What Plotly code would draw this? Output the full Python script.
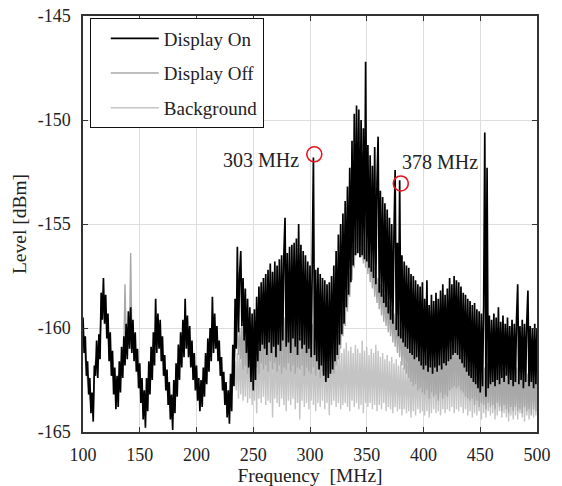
import plotly.graph_objects as go

FREQ_START = 100
FREQ_STOP = 500
freq_mhz = list(range(FREQ_START, FREQ_STOP + 1))  # 1 MHz bins

display_on = [
    -159.5,-161.2,-160.4,-162.3,-161.6,-163.2,-162.4,-164.1,-163.1,-164.5,
    -161.8,-162.3,-160.6,-162.4,-160.3,-161.5,-158.3,-159.6,-157.6,-159.8,
    -158.4,-160.5,-159.3,-161.6,-160.2,-162.3,-161.1,-163.2,-161.9,-163.9,
    -162.3,-163.8,-161.6,-163.1,-160.9,-162.4,-160.4,-161.8,-159.8,-161.5,
    -159.2,-161.0,-159.0,-161.2,-159.6,-161.6,-160.2,-162.1,-161.0,-162.9,
    -161.7,-163.6,-162.4,-164.4,-163.0,-164.8,-162.4,-164.0,-161.6,-163.2,
    -160.9,-162.5,-160.2,-161.8,-158.6,-161.2,-159.3,-161.0,-159.6,-161.6,
    -160.4,-162.3,-161.3,-163.0,-162.0,-163.7,-162.6,-164.4,-163.2,-164.9,
    -162.5,-164.1,-161.7,-163.3,-160.8,-162.5,-160.2,-161.9,-159.6,-161.4,
    -158.6,-161.0,-159.4,-161.4,-159.9,-161.9,-160.6,-162.5,-161.2,-163.0,
    -161.8,-163.5,-162.4,-164.0,-162.5,-163.8,-161.9,-163.3,-161.2,-162.7,
    -160.5,-162.1,-160.0,-161.6,-158.5,-161.2,-159.3,-161.0,-159.9,-161.6,
    -160.6,-162.3,-161.4,-163.0,-162.1,-163.7,-162.6,-164.3,-163.0,-164.6,
    -162.2,-164.0,-160.8,-162.8,-158.6,-161.0,-156.1,-160.2,-157.4,-156.3,
    -159.9,-157.6,-160.6,-158.1,-161.2,-158.6,-161.9,-159.0,-162.6,-159.3,
    -163.0,-159.1,-162.5,-158.5,-161.6,-158.0,-161.1,-157.8,-160.8,-157.6,
    -161.0,-157.4,-161.3,-157.2,-160.7,-156.9,-161.2,-157.3,-160.9,-156.8,
    -161.4,-157.0,-160.8,-156.7,-161.1,-156.5,-160.6,-156.4,-154.7,-160.9,
    -156.4,-160.7,-156.1,-161.2,-156.0,-160.5,-155.9,-160.9,-155.7,-161.3,
    -155.0,-160.6,-156.0,-161.0,-156.3,-160.8,-156.5,-161.2,-156.8,-161.0,
    -157.0,-161.4,-156.9,-151.8,-161.3,-157.2,-161.6,-157.1,-162.0,-157.4,
    -161.8,-157.6,-162.3,-157.7,-162.6,-157.9,-162.4,-157.8,-162.2,-157.5,
    -162.0,-157.0,-161.6,-156.3,-161.3,-155.5,-160.8,-155.0,-160.3,-154.5,
    -159.8,-153.9,-159.0,-153.2,-158.4,-152.3,-157.8,-151.0,-157.0,-149.7,
    -156.5,-149.3,-156.4,-149.5,-156.6,-150.0,-156.5,-150.4,-156.7,-147.2,
    -156.8,-151.2,-157.1,-151.7,-157.3,-152.2,-157.6,-151.3,-157.9,-153.0,
    -150.8,-158.3,-153.4,-158.5,-153.7,-158.8,-154.0,-159.0,-154.3,-159.3,
    -154.7,-159.6,-155.0,-159.8,-155.4,-152.4,-160.1,-155.9,-160.4,-152.9,
    -160.5,-156.5,-160.7,-156.8,-160.9,-157.0,-161.0,-157.1,-161.2,-157.4,
    -161.3,-157.5,-161.5,-157.7,-161.4,-157.9,-161.6,-158.0,-161.8,-157.8,
    -162.0,-158.6,-161.8,-157.7,-162.1,-158.9,-161.9,-158.4,-162.2,-158.7,
    -161.9,-158.3,-162.1,-158.6,-161.8,-158.2,-162.0,-157.9,-161.7,-158.4,
    -161.8,-158.1,-161.6,-157.6,-161.5,-157.9,-161.3,-157.5,-161.2,-157.7,
    -161.3,-157.8,-161.5,-158.0,-161.7,-158.3,-161.9,-158.4,-162.1,-158.6,
    -162.3,-158.7,-162.4,-158.9,-162.6,-158.8,-162.7,-159.1,-162.9,-159.2,
    -163.1,-159.3,-162.8,-159.0,-150.6,-163.3,-152.3,-162.9,-159.4,-162.7,
    -159.6,-162.6,-159.3,-162.8,-159.5,-162.5,-159.0,-162.7,-159.7,-162.4,
    -159.4,-162.6,-159.8,-162.3,-159.5,-162.7,-159.9,-162.5,-159.6,-162.8,
    -159.8,-162.6,-159.5,-157.9,-162.7,-159.9,-162.5,-159.6,-162.9,-159.8,
    -162.6,-159.7,-158.2,-162.8,-159.9,-162.6,-160.0,-162.9,-159.8,-162.7,
    -160.0,
]

display_off = [
    -160.0,-160.9,-161.2,-161.9,-162.3,-162.8,-163.2,-163.6,-163.8,-164.0,
    -162.2,-161.6,-161.4,-161.8,-160.9,-160.6,-159.2,-158.9,-158.5,-159.0,
    -159.2,-159.8,-160.2,-160.8,-161.0,-161.6,-162.0,-162.4,-162.8,-163.3,
    -163.0,-162.6,-162.4,-161.9,-161.7,-161.2,-161.0,-157.9,-160.4,-160.6,
    -160.0,-160.3,-156.4,-160.2,-160.5,-160.7,-161.0,-161.4,-161.9,-162.2,
    -162.6,-163.0,-163.2,-163.6,-163.9,-164.0,-163.5,-163.2,-162.8,-162.5,
    -161.8,-161.5,-161.1,-160.8,-160.4,-160.3,-160.0,-160.1,-160.4,-160.7,
    -161.2,-161.7,-162.0,-162.4,-162.8,-163.0,-163.4,-163.7,-164.0,-164.2,
    -163.5,-163.0,-162.6,-162.3,-161.8,-161.5,-161.1,-160.8,-160.5,-160.3,
    -160.0,-160.2,-160.4,-160.6,-160.9,-161.1,-161.5,-161.8,-162.2,-162.4,
    -162.8,-163.0,-163.2,-163.4,-163.3,-163.0,-162.7,-162.4,-161.9,-161.6,
    -161.2,-161.0,-160.7,-160.5,-160.2,-160.3,-160.1,-160.4,-160.6,-160.9,
    -161.3,-161.7,-162.1,-162.4,-162.8,-163.1,-163.4,-163.6,-163.8,-164.0,
    -163.6,-163.0,-162.4,-161.8,-161.0,-160.6,-160.2,-161.3,-160.0,-161.5,
    -159.8,-162.0,-159.6,-161.8,-160.1,-162.2,-159.9,-162.4,-160.3,-162.1,
    -160.0,-162.5,-159.7,-161.9,-159.5,-162.2,-159.8,-161.7,-159.4,-162.0,
    -159.3,-161.8,-159.6,-162.1,-159.2,-161.6,-159.5,-162.0,-159.1,-161.7,
    -159.4,-162.1,-159.0,-161.8,-159.3,-162.2,-159.2,-161.9,-159.5,-162.0,
    -159.1,-161.7,-159.4,-162.1,-159.0,-161.8,-159.3,-162.2,-159.1,-161.9,
    -159.4,-162.0,-159.2,-161.8,-159.5,-162.3,-159.3,-161.9,-159.6,-162.1,
    -159.5,-162.2,-159.8,-161.9,-159.6,-162.3,-159.9,-162.0,-159.7,-162.4,
    -160.0,-162.1,-159.8,-162.5,-160.1,-162.2,-159.9,-162.4,-160.2,-162.0,
    -159.9,-162.2,-160.0,-161.8,-159.6,-161.5,-159.2,-161.0,-158.8,-160.4,
    -158.5,-159.9,-157.9,-159.2,-157.4,-158.5,-156.6,-157.7,-155.8,-157.1,
    -155.1,-156.5,-154.7,-156.4,-154.9,-156.6,-155.3,-156.9,-155.7,-157.1,
    -156.0,-157.4,-156.4,-157.8,-156.7,-158.1,-157.0,-158.5,-157.3,-158.8,
    -157.6,-159.1,-157.9,-159.4,-158.1,-159.7,-158.4,-159.9,-158.7,-160.2,
    -158.9,-160.4,-159.1,-160.7,-159.3,-160.9,-159.5,-161.2,-159.7,-161.4,
    -159.9,-161.8,-160.1,-162.0,-160.3,-162.2,-160.4,-162.4,-160.6,-162.6,
    -160.7,-162.8,-160.9,-162.7,-160.8,-163.0,-161.0,-162.9,-161.1,-163.1,
    -161.0,-163.2,-161.3,-163.0,-161.1,-163.4,-161.4,-163.1,-161.2,-163.3,
    -161.5,-163.2,-161.2,-163.5,-161.4,-163.1,-161.3,-163.4,-161.1,-163.2,
    -161.2,-163.3,-160.9,-163.0,-160.8,-162.9,-160.6,-162.8,-160.5,-162.9,
    -160.6,-162.8,-160.7,-163.0,-160.9,-163.1,-161.1,-163.3,-161.3,-163.4,
    -161.4,-163.5,-161.6,-163.4,-161.5,-163.7,-161.7,-163.5,-161.6,-163.8,
    -161.8,-163.6,-161.5,-163.7,-161.9,-163.9,-161.7,-163.6,-161.8,-163.8,
    -161.6,-163.7,-161.9,-163.9,-161.7,-163.6,-162.0,-163.8,-161.8,-164.0,
    -161.9,-163.7,-162.1,-163.9,-161.8,-164.1,-162.0,-163.8,-161.9,-164.0,
    -162.1,-163.8,-161.9,-164.0,-162.2,-163.9,-161.8,-164.1,-162.0,-163.8,
    -161.9,-164.0,-162.2,-163.9,-162.0,-164.2,-161.9,-163.9,-162.1,-164.0,
    -162.0,
]

background = [
    -160.4,-161.0,-161.6,-162.0,-162.6,-162.9,-163.4,-163.7,-164.0,-163.8,
    -162.4,-161.9,-161.7,-161.6,-161.2,-160.5,-159.6,-158.8,-158.9,-159.3,
    -159.6,-160.0,-160.5,-161.0,-161.3,-161.8,-162.2,-162.6,-163.0,-163.4,
    -162.9,-162.8,-162.2,-162.0,-161.5,-161.3,-160.8,-160.9,-160.6,-160.4,
    -160.2,-160.0,-160.1,-160.4,-160.6,-160.9,-161.2,-161.6,-162.0,-162.4,
    -162.8,-163.1,-163.4,-163.7,-164.1,-163.8,-163.6,-163.0,-162.9,-162.3,
    -162.0,-161.4,-161.2,-160.7,-160.6,-160.2,-160.2,-160.0,-160.5,-160.9,
    -161.4,-161.6,-162.2,-162.5,-162.9,-163.2,-163.5,-163.9,-164.1,-164.0,
    -163.3,-163.1,-162.4,-162.1,-161.9,-161.3,-161.2,-160.7,-160.6,-160.1,
    -160.2,-160.1,-160.6,-160.5,-161.0,-161.3,-161.6,-162.0,-162.3,-162.6,
    -162.9,-163.2,-163.3,-163.5,-163.1,-162.9,-162.5,-162.2,-161.8,-161.4,
    -161.3,-160.8,-160.8,-160.3,-160.4,-160.1,-160.3,-160.5,-160.8,-161.0,
    -161.5,-161.8,-162.3,-162.5,-163.0,-163.2,-163.5,-163.8,-163.9,-164.1,
    -163.4,-163.2,-162.6,-162.0,-161.6,-163.0,-161.2,-163.4,-161.0,-163.2,
    -160.9,-163.5,-161.1,-163.3,-160.7,-163.6,-161.0,-163.4,-160.8,-163.7,
    -161.2,-163.5,-160.9,-164.1,-161.1,-163.4,-160.6,-163.6,-161.0,-163.3,
    -160.8,-163.7,-161.2,-163.5,-160.1,-163.6,-160.9,-164.3,-161.1,-163.4,
    -160.7,-163.6,-161.0,-163.8,-160.9,-163.4,-161.3,-163.7,-160.6,-164.0,
    -161.0,-163.5,-160.8,-163.7,-161.2,-163.4,-160.5,-163.9,-161.1,-163.6,
    -160.9,-164.4,-161.2,-163.5,-160.8,-163.8,-161.0,-163.6,-160.7,-163.9,
    -161.1,-163.5,-160.9,-163.7,-161.3,-164.0,-160.8,-163.6,-161.2,-163.8,
    -161.0,-163.5,-160.6,-163.9,-161.1,-163.6,-160.9,-164.2,-161.2,-163.7,
    -160.9,-163.5,-161.3,-163.8,-161.0,-163.6,-160.8,-163.9,-161.2,-163.7,
    -161.0,-163.6,-160.7,-163.8,-161.1,-164.0,-160.9,-163.5,-161.2,-163.8,
    -160.8,-163.6,-161.0,-163.9,-161.2,-163.7,-160.6,-164.1,-161.1,-163.6,
    -160.9,-163.8,-161.3,-163.6,-161.0,-163.9,-161.2,-163.7,-160.8,-164.0,
    -161.1,-163.7,-161.4,-163.9,-161.2,-163.6,-161.5,-164.0,-161.3,-163.8,
    -161.6,-163.9,-161.4,-164.1,-161.7,-163.8,-161.5,-164.0,-161.8,-163.9,
    -161.6,-164.2,-161.9,-163.9,-161.7,-164.1,-161.8,-164.0,-161.6,-164.3,
    -161.9,-164.0,-161.7,-164.2,-162.0,-163.9,-161.8,-164.1,-161.6,-164.0,
    -161.8,-164.2,-161.9,-164.0,-161.7,-164.3,-162.0,-164.1,-161.8,-163.9,
    -161.7,-164.1,-161.9,-164.0,-161.6,-164.2,-161.8,-163.9,-161.5,-164.1,
    -161.6,-163.9,-161.4,-164.0,-161.3,-163.8,-161.2,-164.1,-161.3,-163.9,
    -161.2,-164.0,-161.4,-163.8,-161.5,-164.1,-161.7,-163.9,-161.8,-164.2,
    -161.9,-164.0,-161.8,-164.3,-162.0,-164.1,-161.9,-164.2,-162.1,-164.0,
    -161.9,-164.4,-162.2,-164.1,-162.0,-164.3,-162.1,-164.0,-162.3,-164.2,
    -162.0,-164.1,-162.2,-164.4,-161.9,-164.2,-162.3,-164.0,-162.1,-164.3,
    -162.2,-164.1,-162.4,-164.3,-162.0,-164.5,-162.3,-164.2,-162.1,-164.4,
    -162.3,-164.2,-162.0,-164.4,-162.4,-164.1,-162.2,-164.3,-162.1,-164.5,
    -162.4,-164.2,-162.2,-164.4,-162.3,-164.1,-162.0,-164.3,-162.2,-164.2,
    -162.3,
]

marker_freq = [303.8, 380.0]
marker_level = [-151.65, -153.05]
marker_labels = ["303 MHz", "378 MHz"]
label_freq = [292.0, 379.5]
label_level = [-151.9, -152.0]

x_ticks = [100, 150, 200, 250, 300, 350, 400, 450, 500]
y_ticks = [-165, -160, -155, -150, -145]
y_ticktext = ["-165", "-160", "-155", "-150", "-145"]

FONT = "Liberation Serif"

fig = go.Figure()
fig.add_trace(go.Scatter(x=freq_mhz, y=background, mode="lines", name="Background",
                         line=dict(color="#c4c4c4", width=1.4, simplify=False),
                         legendgroup="c", legendrank=3))
fig.add_trace(go.Scatter(x=freq_mhz, y=display_off, mode="lines", name="Display Off",
                         line=dict(color="#a8a8a8", width=1.4, simplify=False),
                         legendgroup="b", legendrank=2))
fig.add_trace(go.Scatter(x=freq_mhz, y=display_on, mode="lines", name="Display On",
                         line=dict(color="#000000", width=1.7, simplify=False),
                         legendgroup="a", legendrank=1))
fig.add_trace(go.Scatter(x=marker_freq, y=marker_level, mode="markers", showlegend=False,
                         marker=dict(symbol="circle-open", size=15, color="#e8141c",
                                     line=dict(width=1.6, color="#e8141c"))))

for fx, fy, txt, anchor in zip(label_freq, label_level, marker_labels, ["right", "left"]):
    fig.add_annotation(x=fx, y=fy, text=txt, showarrow=False, xanchor=anchor,
                       yanchor="middle", font=dict(family=FONT, size=20, color="#222"))

axis_common = dict(showline=True, linecolor="#333333", linewidth=1.5, mirror="ticks",
                   ticks="inside", ticklen=5, tickcolor="#333333", tickwidth=1,
                   showgrid=True, gridcolor="#dddddd", gridwidth=1, zeroline=False,
                   ticklabeloverflow="allow",
                   tickfont=dict(family=FONT, size=18, color="#222"))

fig.update_layout(
    width=562, height=486,
    margin=dict(l=83, r=25, t=16, b=54, autoexpand=False),
    paper_bgcolor="white", plot_bgcolor="white",
    font=dict(family=FONT, color="#222"),
    xaxis=dict(range=[FREQ_START, FREQ_STOP], tickvals=x_ticks,
               title=dict(text="Frequency  [MHz]", font=dict(family=FONT, size=19.5), standoff=6),
               ticklabelstandoff=6, **axis_common),
    yaxis=dict(range=[-165, -145], tickvals=y_ticks, ticktext=y_ticktext,
               title=dict(text="Level [dBm]", font=dict(family=FONT, size=19.5), standoff=6),
               ticklabelstandoff=7, **axis_common),
    legend=dict(x=0.015, y=0.994, xanchor="left", yanchor="top", bgcolor="white",
                bordercolor="#111", borderwidth=1, traceorder="grouped",
                tracegroupgap=7, itemwidth=48, indentation=15, entrywidth=105,
                font=dict(family=FONT, size=19, color="#222")),
    showlegend=True,
)

# remove the browser's default 8 px page margin so the figure fills the window exactly
fig.write_html("out.html",
               config={"displayModeBar": False},
               post_script="document.body.style.margin='0';document.body.style.overflow='hidden';")
